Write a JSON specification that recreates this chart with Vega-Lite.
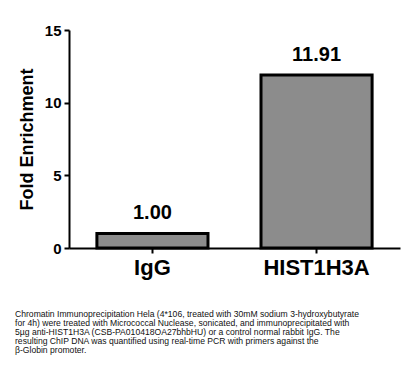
{
  "$schema": "https://vega.github.io/schema/vega-lite/v6.json",
  "width": 331,
  "height": 218,
  "autosize": "none",
  "padding": {"left": 69, "top": 30, "right": 9, "bottom": 122},
  "background": "white",
  "config": {"view": {"stroke": null}},
  "title": {
    "text": [
      "Chromatin Immunoprecipitation Hela (4*106, treated with 30mM sodium 3-hydroxybutyrate",
      "for 4h) were treated with Micrococcal Nuclease, sonicated, and immunoprecipitated with",
      "5µg anti-HIST1H3A (CSB-PA010418OA27bhbHU) or a control normal rabbit IgG. The",
      "resulting ChIP DNA was quantified using real-time PCR with primers against the",
      "β-Globin promoter."
    ],
    "orient": "bottom",
    "anchor": "start",
    "frame": "group",
    "font": "Liberation Sans",
    "fontSize": 8.6,
    "fontWeight": "normal",
    "lineHeight": 9,
    "color": "#111111",
    "dx": -54,
    "offset": 32
  },
  "data": {
    "values": [
      {"group": "IgG", "value": 1.0},
      {"group": "HIST1H3A", "value": 11.91}
    ]
  },
  "encoding": {
    "x": {
      "field": "group",
      "type": "nominal",
      "sort": null,
      "scale": {"paddingInner": 0.323, "paddingOuter": 0.17},
      "axis": {
        "title": null,
        "labelAngle": 0,
        "labelFont": "Liberation Sans",
        "labelFontSize": 22,
        "labelFontWeight": "bold",
        "labelColor": "black",
        "labelPadding": 4,
        "domainColor": "black",
        "domainWidth": 2,
        "tickColor": "black",
        "tickWidth": 2,
        "tickSize": 5
      }
    },
    "y": {
      "field": "value",
      "type": "quantitative",
      "scale": {"domain": [0, 15], "nice": false},
      "axis": {
        "title": "Fold Enrichment",
        "titleFont": "Liberation Sans",
        "titleFontSize": 18,
        "titleFontWeight": "bold",
        "titleColor": "black",
        "titlePadding": 8,
        "values": [0, 5, 10, 15],
        "grid": false,
        "labelFont": "Liberation Sans",
        "labelFontSize": 15,
        "labelFontWeight": "bold",
        "labelColor": "black",
        "labelPadding": 3,
        "domainColor": "black",
        "domainWidth": 2,
        "tickColor": "black",
        "tickWidth": 2,
        "tickSize": 5
      }
    }
  },
  "layer": [
    {
      "mark": {"type": "bar", "fill": "#8c8c8c", "stroke": "black", "strokeWidth": 3}
    },
    {
      "mark": {
        "type": "text",
        "font": "Liberation Sans",
        "fontSize": 20,
        "fontWeight": "bold",
        "color": "black",
        "baseline": "alphabetic",
        "dy": -14
      },
      "encoding": {
        "text": {"field": "value", "type": "quantitative", "format": ".2f"}
      }
    }
  ]
}
